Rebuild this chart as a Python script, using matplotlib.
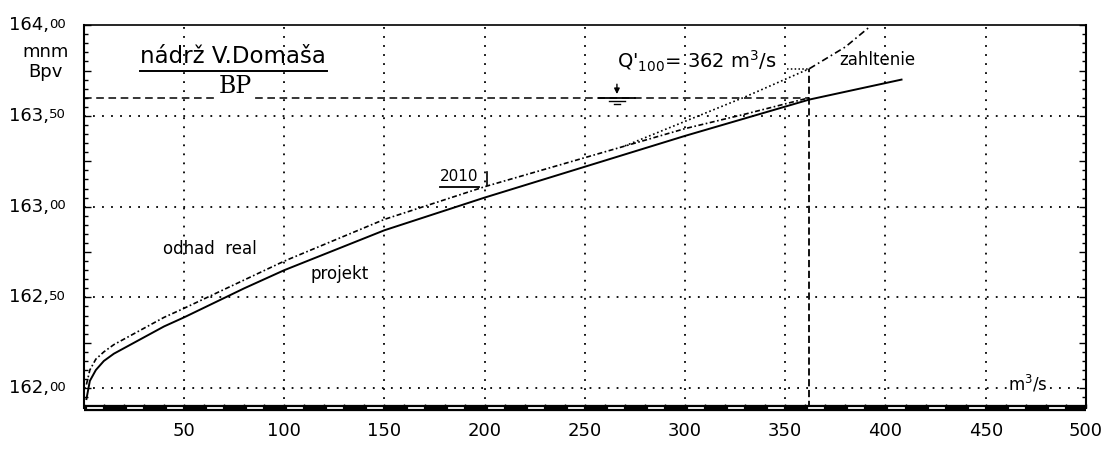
import matplotlib
matplotlib.use('Agg')
import matplotlib.pyplot as plt
import numpy as np
from matplotlib.ticker import MultipleLocator

# konzumpcna krivka - nadrz V.Domasa
q_projekt = [1.3, 3, 6, 10, 15, 20, 30, 40, 50, 65, 80, 100, 125, 150, 175, 200, 250, 300, 362, 408]
h_projekt = [161.94, 162.04, 162.10, 162.15, 162.19, 162.22, 162.28, 162.34, 162.39, 162.47,
             162.55, 162.65, 162.76, 162.87, 162.96, 163.05, 163.22, 163.39, 163.59, 163.70]

q_real = [1.3, 3, 6, 10, 15, 20, 30, 40, 50, 75, 100, 150, 200, 250, 300, 330, 362]
h_real = [162.02, 162.10, 162.16, 162.20, 162.24, 162.27, 162.33, 162.39, 162.44, 162.57,
          162.70, 162.93, 163.11, 163.27, 163.43, 163.51, 163.60]

q_zahl = [270, 300, 330, 362]
h_zahl = [163.335, 163.47, 163.605, 163.76]
q_zahl_up = [362, 380, 392]
h_zahl_up = [163.76, 163.88, 163.99]

BP = 163.60
Q100 = 362

x_ticks = [50, 100, 150, 200, 250, 300, 350, 400, 450, 500]
y_ticks = [162.0, 162.5, 163.0, 163.5, 164.0]
XMIN, XMAX = 0, 500
YMIN, YMAX = 161.89, 164.0

fig = plt.figure(figsize=(11.03, 4.49), dpi=100)
ax = fig.add_axes([0.076, 0.091, 0.9085, 0.853])
ax.set_xlim(XMIN, XMAX)
ax.set_ylim(YMIN, YMAX)

# mriezka
grid = dict(color='black', lw=1.3, linestyle=(0, (1, 4)), zorder=1)
for x in x_ticks[:-1]:
    ax.axvline(x, **grid)
for y in y_ticks[:-1]:
    ax.axhline(y, **grid)

# krivky
ax.plot(q_projekt, h_projekt, color='black', lw=1.4, zorder=3)
ax.plot(q_real, h_real, color='black', lw=1.2, linestyle=(0, (3, 1.5, 1, 1.5)), zorder=3)
ax.plot(q_zahl, h_zahl, color='black', lw=1.2, linestyle=(0, (1, 1.6)), zorder=3)
ax.plot(q_zahl_up, h_zahl_up, color='black', lw=1.2, linestyle=(0, (4, 2, 1, 2)), zorder=3)

# BP a Q100
ax.plot([XMIN, Q100], [BP, BP], color='black', lw=1.1, linestyle=(0, (5, 3)), zorder=2)
ax.plot([Q100, Q100], [YMIN, h_zahl[-1]], color='black', lw=1.3, linestyle=(0, (4, 2)), zorder=2)
ax.plot([351, Q100], [h_zahl[-1], h_zahl[-1]], color='black', lw=1.1, linestyle=(0, (1, 1.5)))

# znacka hladiny
ax.annotate('', xy=(266, BP + 0.005), xytext=(266, BP + 0.09),
            arrowprops=dict(arrowstyle='-|>', color='black', lw=1.0, mutation_scale=8))
ax.plot([257, 275], [BP, BP], color='black', lw=1.3, zorder=4)
ax.plot([262, 270], [BP - 0.02, BP - 0.02], color='black', lw=1.0, zorder=4)
ax.plot([264.5, 267.5], [BP - 0.035, BP - 0.035], color='black', lw=1.0, zorder=4)

# texty
ax.text(28, 163.83, 'nádrž V.Domaša', fontsize=16.5, va='center', ha='left')
ax.plot([28, 121.5], [163.748, 163.748], color='black', lw=1.4)
ax.text(75.5, 163.66, 'BP', fontsize=17, family='DejaVu Serif', ha='center', va='center',
        bbox=dict(facecolor='white', edgecolor='none', pad=0.5), zorder=3)
ax.text(266, 163.80, "Q'$_{100}$= 362 m$^3$/s", fontsize=14, va='center', ha='left')
ax.text(377, 163.81, 'zahltenie', fontsize=12, va='center', ha='left')
ax.text(177.5, 163.165, '2010', fontsize=11, va='center', ha='left')
ax.plot([177.5, 197], [163.11, 163.11], color='black', lw=1.3)
ax.plot([201, 201], [163.12, 163.19], color='black', lw=1.2)
ax.text(39.5, 162.765, 'odhad  real', fontsize=12, va='center', ha='left')
ax.text(113, 162.627, 'projekt', fontsize=12, va='center', ha='left')
ax.text(461, 162.025, 'm$^3$/s', fontsize=12, va='center', ha='left',
        bbox=dict(facecolor='white', edgecolor='none', pad=0.5), zorder=3)

fig.text(0.041, 0.884, 'mnm', fontsize=13, ha='center', va='center')
fig.text(0.041, 0.840, 'Bpv', fontsize=13, ha='center', va='center')

# osi
for side in ['left', 'right']:
    ax.spines[side].set_linewidth(1.5)
ax.spines['top'].set_linewidth(1.2)
ax.spines['bottom'].set_linewidth(4.5)
ax.spines['bottom'].set_capstyle('butt')
for x0 in np.arange(2, XMAX, 20):
    ax.plot([x0, x0 + 7], [YMIN, YMIN], color='white', lw=1.3, clip_on=False, zorder=5)

ax.xaxis.set_minor_locator(MultipleLocator(10))
ax.set_xticks(x_ticks)
ax.set_xticklabels([str(v) for v in x_ticks], fontsize=13)
ax.tick_params(axis='x', which='both', direction='in', length=3, width=1, pad=10, top=False)

ax.yaxis.set_major_locator(MultipleLocator(0.25))
ax.yaxis.set_minor_locator(MultipleLocator(0.05))
ax.set_yticklabels([])
ax.tick_params(axis='y', which='major', direction='in', length=5, width=1, left=True, right=True)
ax.tick_params(axis='y', which='minor', direction='in', length=3, width=1, left=True, right=True)

for v in y_ticks:
    ax.annotate(f'{int(v)},', xy=(0, v), xycoords=('axes fraction', 'data'),
                xytext=(-35, 0), textcoords='offset pixels', ha='right', va='center', fontsize=13)
    ax.annotate(f'{round((v % 1) * 100):02d}', xy=(0, v), xycoords=('axes fraction', 'data'),
                xytext=(-35, 1), textcoords='offset pixels', ha='left', va='center', fontsize=9.5)

fig.savefig('out.png', dpi=100)
